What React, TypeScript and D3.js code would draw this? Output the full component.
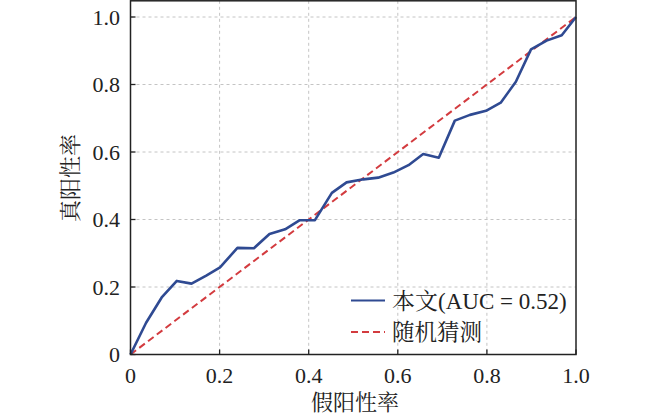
import React from "react";
import * as d3 from "d3";

const fpr = [0, 0.035, 0.07, 0.104, 0.137, 0.17, 0.201, 0.24, 0.277, 0.312, 0.347, 0.38, 0.414, 0.452, 0.485, 0.523, 0.556, 0.59, 0.624, 0.657, 0.692, 0.728, 0.762, 0.798, 0.831, 0.865, 0.899, 0.934, 0.968, 1.0];
const tpr = [0, 0.094, 0.169, 0.218, 0.21, 0.234, 0.258, 0.316, 0.315, 0.357, 0.371, 0.398, 0.398, 0.479, 0.51, 0.519, 0.524, 0.539, 0.561, 0.594, 0.583, 0.693, 0.71, 0.722, 0.746, 0.808, 0.904, 0.93, 0.946, 1.0];
const randomLine = [[0, 0], [1, 1]];
const xTicks = [0, 0.2, 0.4, 0.6, 0.8, 1.0];
const yTicks = [0, 0.2, 0.4, 0.6, 0.8, 1.0];
const xTickLabels = ["0", "0.2", "0.4", "0.6", "0.8", "1.0"];
const yTickLabels = ["0", "0.2", "0.4", "0.6", "0.8", "1.0"];
const legendLabels = ["本文(AUC = 0.52)", "随机猜测"];
const xTitle = "假阳性率";
const yTitle = "真阳性率";

const W = 650, H = 418;
const left = 130.5, right = 576, top = 0.8, bottom = 354.5;
const FONT = "'Liberation Serif', 'Times New Roman', 'Noto Serif CJK SC', 'Noto Sans CJK SC', serif";

export default function App() {
  const x = d3.scaleLinear().domain([0, 1]).range([left, right]);
  const y = d3.scaleLinear().domain([0, 1]).range([bottom, 17]);
  const line = d3.line<number>().x((_, i) => x(fpr[i])).y((d) => y(d));
  const rline = d3.line<number[]>().x((d) => x(d[0])).y((d) => y(d[1]));
  const blue = "#2f4a92";
  const red = "#d33b3f";
  return (
    <svg width={W} height={H} style={{ position: "absolute", left: 0, top: 0, background: "#fff" }} fontFamily={FONT}>
      <rect x={0} y={0} width={W} height={H} fill="#fff" />
      {xTicks.slice(1, -1).map((t) => (
        <line key={"gx" + t} x1={x(t)} x2={x(t)} y1={top} y2={bottom} stroke="#c4c4c4" strokeWidth={1} strokeDasharray="3,3" />
      ))}
      {yTicks.slice(1).map((t) => (
        <line key={"gy" + t} x1={left} x2={right} y1={y(t)} y2={y(t)} stroke="#c4c4c4" strokeWidth={1} strokeDasharray="3,3" />
      ))}
      <path d={rline(randomLine) || ""} fill="none" stroke={red} strokeWidth={2} strokeDasharray="7,4" />
      <path d={line(tpr) || ""} fill="none" stroke={blue} strokeWidth={2.6} strokeLinejoin="round" />
      <rect x={left} y={top} width={right - left} height={bottom - top} fill="none" stroke="#222" strokeWidth={1.5} />
      {xTicks.map((t, i) => (
        <g key={"xt" + t}>
          <line x1={x(t)} x2={x(t)} y1={bottom} y2={bottom - 5} stroke="#222" strokeWidth={1.3} />
          <text x={x(t)} y={383} textAnchor="middle" fontSize={22} fill="#222">{xTickLabels[i]}</text>
        </g>
      ))}
      {yTicks.map((t, i) => (
        <g key={"yt" + t}>
          <line x1={left} x2={left + 5} y1={y(t)} y2={y(t)} stroke="#222" strokeWidth={1.3} />
          <text x={120} y={y(t)} dy="0.35em" textAnchor="end" fontSize={22} fill="#222">{yTickLabels[i]}</text>
        </g>
      ))}
      <text x={355} y={410} textAnchor="middle" fontSize={22} fill="#222">{xTitle}</text>
      <text transform={`translate(78,178) rotate(-90)`} textAnchor="middle" fontSize={22} fill="#222">{yTitle}</text>
      <line x1={351} x2={385} y1={300.5} y2={300.5} stroke={blue} strokeWidth={2} />
      <text x={392} y={300.5} dy="0.35em" fontSize={23} fill="#222">{legendLabels[0]}</text>
      <line x1={351} x2={385} y1={332} y2={332} stroke={red} strokeWidth={2} strokeDasharray="7,4" />
      <text x={392} y={332} dy="0.35em" fontSize={22.5} fill="#222">{legendLabels[1]}</text>
    </svg>
  );
}
